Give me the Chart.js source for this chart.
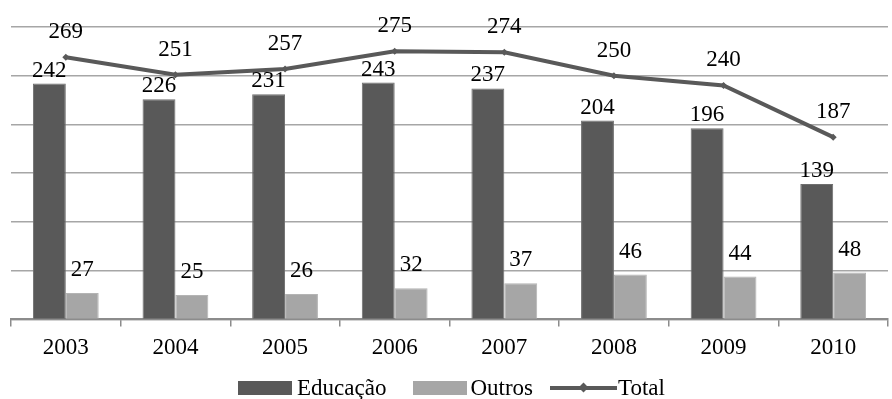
<!DOCTYPE html>
<html>
<head>
<meta charset="utf-8">
<script src="https://cdn.jsdelivr.net/npm/chart.js@4/dist/chart.umd.min.js"></script>
<style>
  body { margin: 0; background: #fff; }
  #wrap { position: relative; width: 892px; height: 399px; }
  #legend {
    position: absolute; top: 376px; left: 238px; height: 23px;
    display: flex; align-items: center;
    font-family: 'Liberation Serif', serif; font-size: 23px; line-height: 23px; color: #000;
  }
  .item { display: flex; align-items: center; }
  .box { width: 54px; height: 14px; }
  .ln { position: relative; width: 67px; height: 4px; background: #595959; margin-right: 1px; }
  .ln::after {
    content: ''; position: absolute; left: 30px; top: -2px; width: 7px; height: 7px;
    background: #595959; transform: rotate(45deg);
  }
</style>
</head>
<body>
<div id="wrap">
  <canvas id="chart" width="892" height="399"></canvas>
  <div id="legend">
    <div class="item"><span class="box" style="background:#595959;margin-right:5px"></span>Educação</div>
    <div class="item" style="margin-left:27px"><span class="box" style="background:#a6a6a6;margin-right:3px"></span>Outros</div>
    <div class="item" style="margin-left:17px"><span class="ln"></span>Total</div>
  </div>
</div>
<script>
const years = ['2003', '2004', '2005', '2006', '2007', '2008', '2009', '2010'];
const educacao = [242, 226, 231, 243, 237, 204, 196, 139];
const outros = [27, 25, 26, 32, 37, 46, 44, 48];
const total = [269, 251, 257, 275, 274, 250, 240, 187];

const FONT = "'Liberation Serif', serif";

// writes each value above its bar / point
const valueLabels = {
    id: 'valueLabels',
    afterDatasetsDraw(chart) {
        const ctx = chart.ctx;
        ctx.save();
        ctx.font = '23px ' + FONT;
        ctx.fillStyle = '#000';
        ctx.textAlign = 'center';
        ctx.textBaseline = 'alphabetic';
        chart.data.datasets.forEach((ds, i) => {
            const meta = chart.getDatasetMeta(i);
            meta.data.forEach((el, j) => {
                ctx.fillText(ds.data[j], el.x, el.y - ds.labelGap);
            });
        });
        ctx.restore();
    }
};

const ctx = document.getElementById('chart').getContext('2d');
new Chart(ctx, {
    type: 'bar',
    data: {
        labels: years,
        datasets: [
            {
                type: 'line',
                label: 'Total',
                data: total,
                borderColor: '#595959',
                backgroundColor: '#595959',
                borderWidth: 4,
                pointStyle: 'rectRot',
                pointRadius: 3.5,
                pointBorderWidth: 0,
                tension: 0,
                order: 0,
                labelGap: 19
            },
            {
                label: 'Educação',
                data: educacao,
                backgroundColor: '#595959',
                borderColor: '#6e6e6e',
                borderWidth: 1,
                order: 1,
                labelGap: 7
            },
            {
                label: 'Outros',
                data: outros,
                backgroundColor: '#a6a6a6',
                borderColor: '#b4b4b4',
                borderWidth: 1,
                order: 2,
                labelGap: 17
            }
        ]
    },
    options: {
        responsive: false,
        animation: false,
        layout: { padding: { top: 27, left: 11, right: 1, bottom: 29 } },
        datasets: { bar: { categoryPercentage: 0.6, barPercentage: 1.0 } },
        plugins: { legend: { display: false }, tooltip: { enabled: false } },
        scales: {
            x: {
                grid: { drawOnChartArea: false, drawTicks: true, tickLength: 7, color: '#8c8c8c', lineWidth: 1.5 },
                border: { color: '#8c8c8c', width: 2 },
                ticks: { color: '#000', font: { family: FONT, size: 23 }, padding: 8 }
            },
            y: {
                min: 0,
                max: 300,
                ticks: { display: false, stepSize: 50 },
                border: { display: false },
                grid: { drawTicks: false, color: '#a6a6a6', lineWidth: 1.5, borderDash: [2, 2] }
            }
        }
    },
    plugins: [valueLabels]
});
</script>
</body>
</html>
